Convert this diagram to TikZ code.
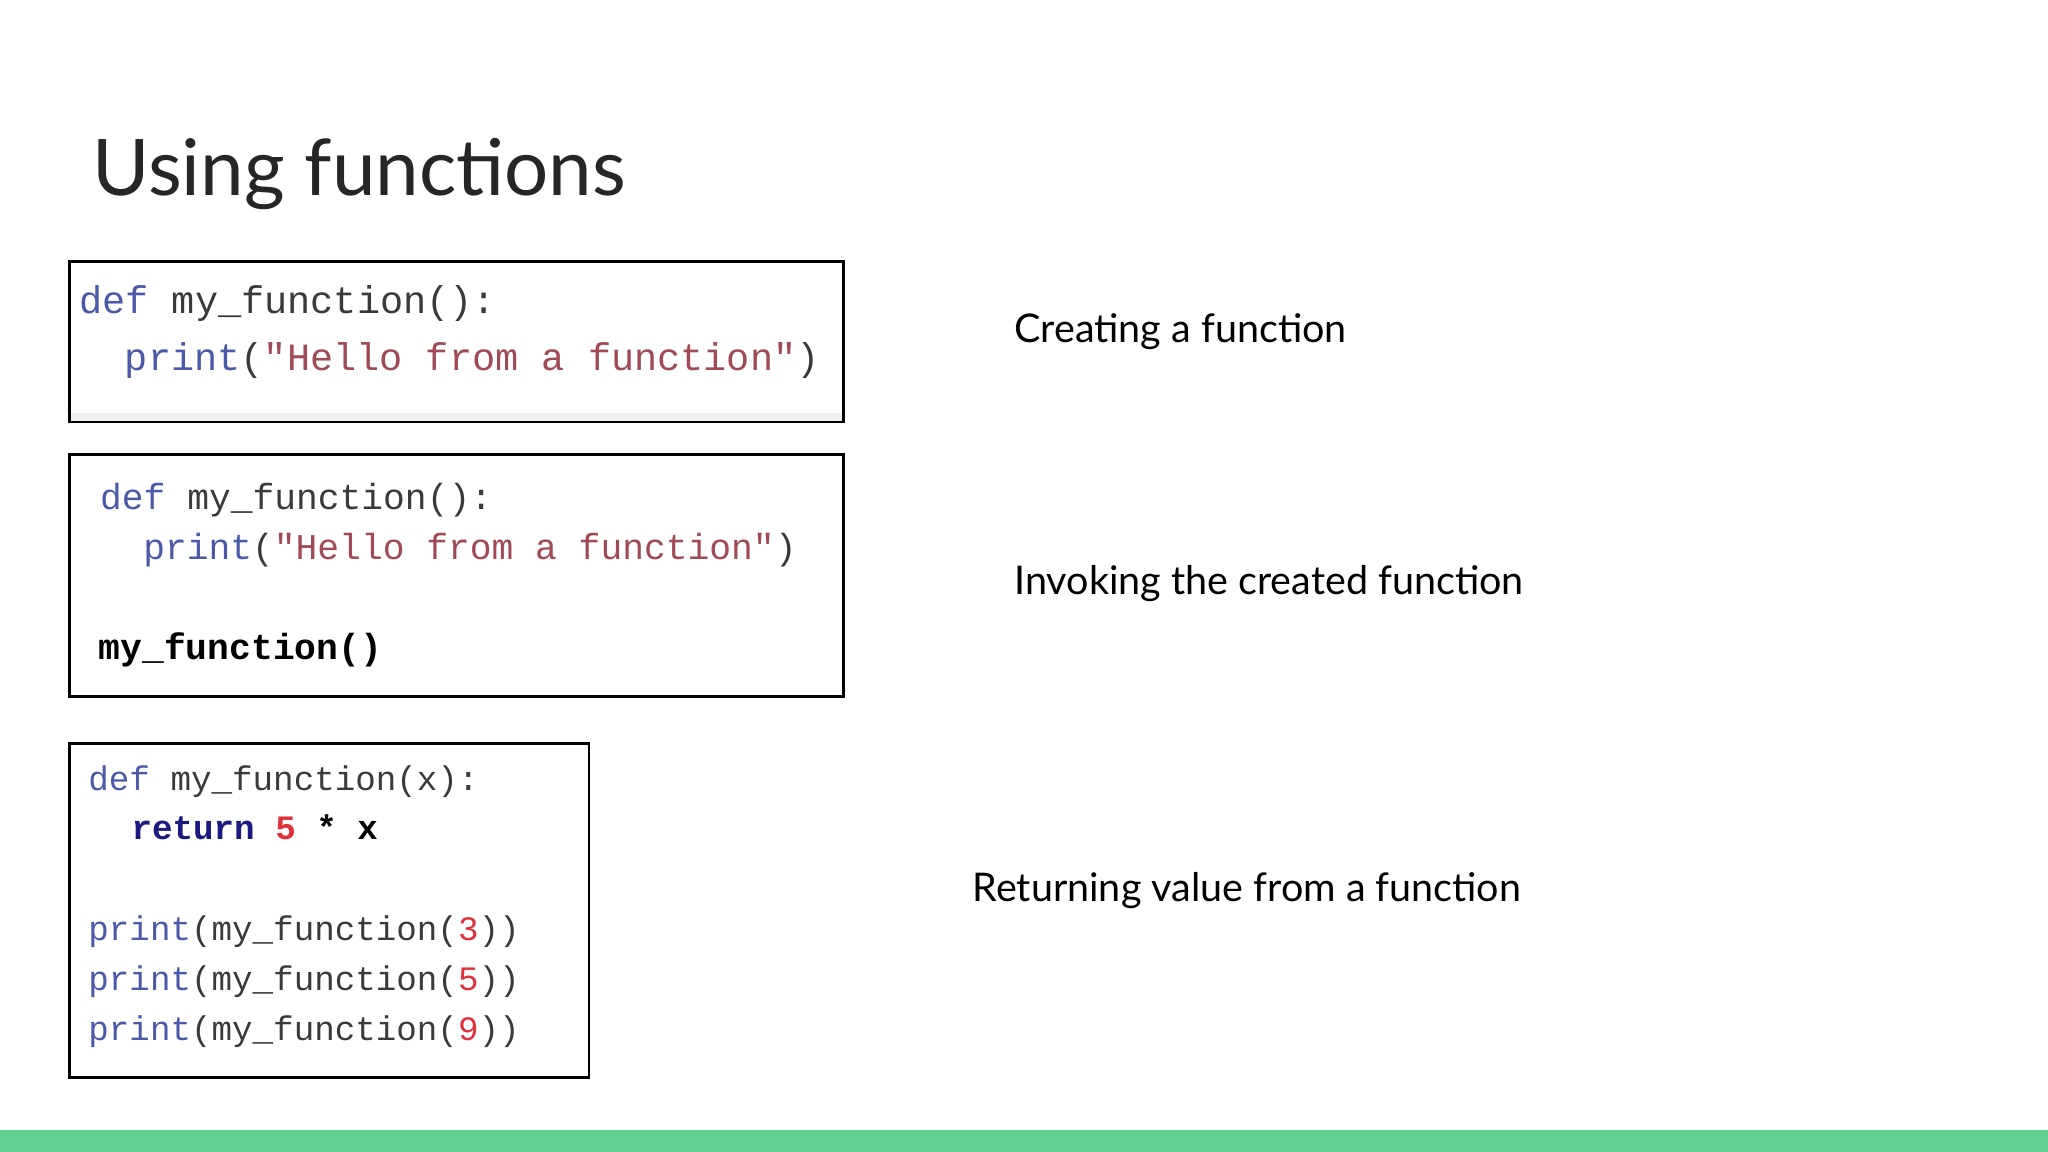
\documentclass[tikz,border=0pt]{standalone}
\usepackage{fontspec}
\setmainfont{Lato}
\newfontfamily\code{Liberation Mono}
\definecolor{kw}{HTML}{4A5AA8}
\definecolor{str}{HTML}{A04A55}
\definecolor{txt}{HTML}{3A3A3A}
\definecolor{num}{HTML}{E0303A}
\definecolor{kwb}{HTML}{1A1A80}
\definecolor{bar}{HTML}{62CF93}
\begin{document}
\begin{tikzpicture}[x=0.01cm,y=-0.01cm,
  box/.style={draw=black,line width=0.6pt},
  ln/.style={anchor=base west,inner sep=0pt,text=txt},
  lab/.style={anchor=base west,inner sep=0pt,font=\fontsize{8.6pt}{10pt}\selectfont,text=black}]
\useasboundingbox (0,0) rectangle (1568,882);
\fill[bar] (0,865) rectangle (1568,882);
\node[anchor=base west,inner sep=0pt,font=\fontsize{17pt}{20pt}\selectfont,text=black!85] (title) at (70,150) {Using functions};
% box 1
\draw[box] (53,200) rectangle (646,323);
\fill[black!6] (54,316) rectangle (645,322);
\begin{scope}[every node/.style={ln,font=\code\fontsize{8.4pt}{10pt}\selectfont}]
\node (a1) at (60,240) {\textcolor{kw}{def}\ my\_function():};
\node (a2) at (95,284) {\textcolor{kw}{print}(\textcolor{str}{"Hello\ from\ a\ function"})};
\end{scope}
% box 2
\draw[box] (53,348) rectangle (646,533);
\begin{scope}[every node/.style={ln,font=\code\fontsize{7.9pt}{10pt}\selectfont}]
\node (b1) at (76,390) {\textcolor{kw}{def}\ my\_function():};
\node (b2) at (109,428) {\textcolor{kw}{print}(\textcolor{str}{"Hello\ from\ a\ function"})};
\node (b3) at (75,505) {\textbf{\textcolor{black}{my\_function()}}};
\end{scope}
% box 3
\draw[box] (53,569) rectangle (451,825);
\begin{scope}[every node/.style={ln,font=\code\fontsize{7.45pt}{10pt}\selectfont}]
\node (c1) at (67,605) {\textcolor{kw}{def}\ my\_function(x):};
\node (c2) at (100,643) {\textbf{\textcolor{kwb}{return}\ \textcolor{num}{5}\ \textcolor{black}{*\ x}}};
\node (c3) at (67,720) {\textcolor{kw}{print}(my\_function(\textcolor{num}{3}))};
\node (c4) at (67,758) {\textcolor{kw}{print}(my\_function(\textcolor{num}{5}))};
\node (c5) at (67,797) {\textcolor{kw}{print}(my\_function(\textcolor{num}{9}))};
\end{scope}
\node[lab] (l1) at (776,262) {Creating a function};
\node[lab] (l2) at (776,455) {Invoking the created function};
\node[lab] (l3) at (744,690) {Returning value from a function};
\end{tikzpicture}
\end{document}
